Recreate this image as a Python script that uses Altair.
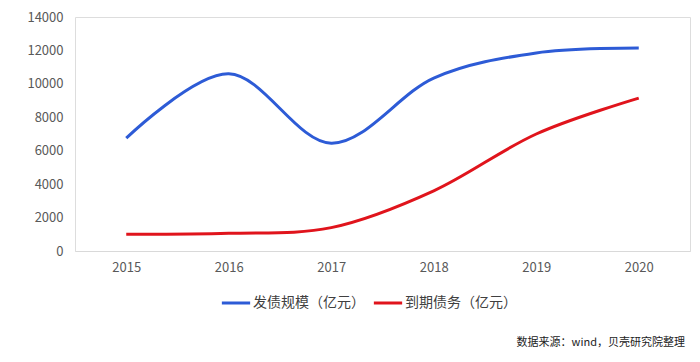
import altair as alt
import pandas as pd

years = ["2015", "2016", "2017", "2018", "2019", "2020"]
issuance = [6750, 10600, 6450, 10350, 11850, 12150]
maturing = [1000, 1060, 1400, 3600, 7000, 9150]
series_names = ["发债规模（亿元）", "到期债务（亿元）"]
colors = ["#2D5BD6", "#E0141C"]
source_note = "数据来源：wind，贝壳研究院整理"

rows = []
for y, v in zip(years, issuance):
    rows.append({"year": y, "value": v, "series": series_names[0]})
for y, v in zip(years, maturing):
    rows.append({"year": y, "value": v, "series": series_names[1]})
df = pd.DataFrame(rows)

FONT = "Noto Sans CJK SC"

lines = alt.Chart(df).mark_line(interpolate="cardinal", strokeWidth=3).encode(
    x=alt.X("year:O", sort=years, scale=alt.Scale(type="point", padding=0.5),
            axis=alt.Axis(title=None, labelAngle=0, ticks=False, domainColor="#d9d9d9",
                          domainWidth=1, labelColor="#595959", labelFontSize=13,
                          labelPadding=10, labelFont=FONT)),
    y=alt.Y("value:Q", scale=alt.Scale(domain=[0, 14000], nice=False),
            axis=alt.Axis(title=None, values=list(range(0, 14001, 2000)), grid=False,
                          domain=False, ticks=False, labelColor="#595959", labelFontSize=13,
                          labelPadding=12, labelFont=FONT, format="d")),
    color=alt.Color("series:N", sort=series_names,
                    scale=alt.Scale(domain=series_names, range=colors),
                    legend=alt.Legend(title=None, orient="none", direction="horizontal",
                                      legendX=145, legendY=270, symbolType="stroke",
                                      symbolSize=800, symbolStrokeWidth=3,
                                      labelFontSize=14, labelColor="#404040", labelFont=FONT,
                                      labelOffset=1, columnPadding=2)),
)

note = alt.Chart(pd.DataFrame({"t": [source_note]})).mark_text(
    align="right", baseline="middle", fontSize=11, font=FONT, color="#222222"
).encode(x=alt.value(610), y=alt.value(326), text="t:N")

chart = alt.layer(lines, note).properties(
    width=615, height=234,
    padding={"left": 18, "top": 3, "right": 2, "bottom": 2},
).configure_view(stroke=None).configure(font=FONT)

chart.save("out.html", embed_options={"renderer": "svg", "actions": False})
